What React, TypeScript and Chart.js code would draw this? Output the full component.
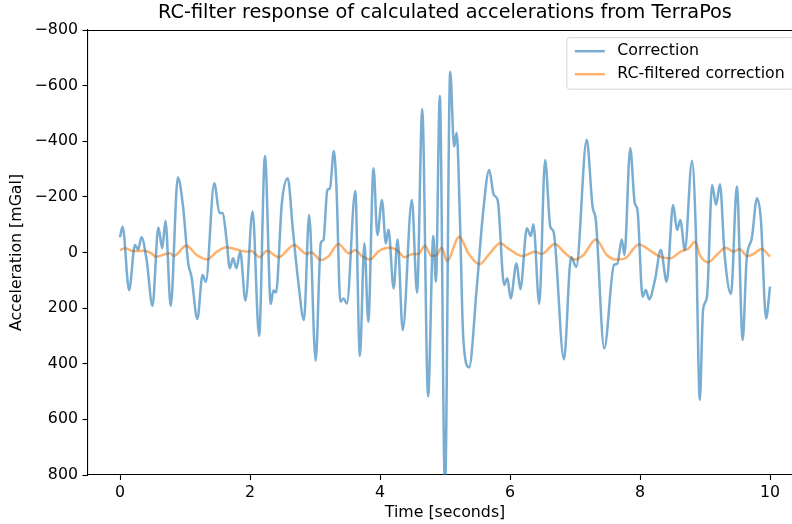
import React, { useEffect, useRef } from 'react';
import { Chart, registerables } from 'chart.js';

Chart.register(...registerables);

const TITLE = 'RC-filter response of calculated accelerations from TerraPos';
const X_LABEL = 'Time [seconds]';
const Y_LABEL = 'Acceleration [mGal]';
const SERIES_NAMES = ['Correction', 'RC-filtered correction'];
const X_TICKS = [0, 2, 4, 6, 8, 10];
const Y_TICKS = [-800, -600, -400, -200, 0, 200, 400, 600, 800];

const correctionTime = [
  0.0, 0.04, 0.14, 0.23, 0.28, 0.33, 0.41, 0.5, 0.59, 0.65, 0.7, 0.78, 0.89, 0.97, 1.05, 1.1, 1.19, 1.27, 1.32, 1.45,
  1.53, 1.58, 1.64, 1.69, 1.74, 1.79, 1.85, 1.93, 2.04, 2.14, 2.23, 2.32, 2.36, 2.4, 2.49, 2.58, 2.66, 2.74, 2.83, 2.91,
  3.01, 3.09, 3.13, 3.19, 3.23, 3.29, 3.33, 3.39, 3.44, 3.49, 3.62, 3.69, 3.76, 3.82, 3.9, 3.96, 4.03, 4.09, 4.13, 4.21,
  4.27, 4.35, 4.49, 4.57, 4.65, 4.74, 4.82, 4.86, 4.92, 5.0, 5.08, 5.14, 5.18, 5.23, 5.28, 5.37, 5.49, 5.58, 5.68, 5.75,
  5.81, 5.91, 5.96, 6.01, 6.1, 6.16, 6.26, 6.32, 6.36, 6.45, 6.54, 6.62, 6.67, 6.83, 6.94, 7.02, 7.18, 7.27, 7.32, 7.45,
  7.6, 7.65, 7.72, 7.76, 7.85, 7.92, 7.96, 8.04, 8.09, 8.14, 8.23, 8.32, 8.41, 8.51, 8.57, 8.62, 8.69, 8.8, 8.86, 8.92,
  8.97, 9.03, 9.11, 9.17, 9.23, 9.3, 9.4, 9.49, 9.58, 9.64, 9.72, 9.8, 9.86, 9.94, 10.0,
];
const correctionValue = [
  -55, -93, 135, -27, -11, -55, 27, 192, -90, -15, -114, 192, -270, -165, 39, 87, 239, 81, 105, -249,
  -143, -141, -45, 57, 21, 57, -3, 173, -147, 300, -347, 185, 137, 144, -177, -267, -81, 99, 243, -135,
  389, -35, -45, -225, -231, -365, -237, 177, 165, 183, -221, 372, -33, 249, -303, -63, -189, -33, -83, 129,
  -47, 279, -189, 144, -515, 518, -59, 105, -563, 860, -650, -381, -431, -117, 303, 413, 123, -129, -297, -207,
  -189, 117, 93, 165, 39, 132, -87, -59, -102, 185, -333, -93, -75, 384, 17, 51, -405, -165, -117, 345,
  45, 41, -47, 9, -375, -177, -155, 159, 135, 168, 99, -9, 105, -171, -81, -117, -9, -330, -69, 530,
  207, 159, -243, -171, -245, 3, 149, -237, 315, 27, -51, -195, -117, 237, 123,
];

const filteredTime = [
  0.0, 0.08, 0.2, 0.36, 0.46, 0.56, 0.69, 0.77, 0.83, 1.02, 1.18, 1.34, 1.49, 1.64, 1.82, 1.95, 2.02, 2.15, 2.26, 2.44,
  2.68, 2.87, 2.94, 3.09, 3.21, 3.36, 3.52, 3.62, 3.72, 3.85, 3.97, 4.13, 4.26, 4.38, 4.49, 4.59, 4.69, 4.79, 4.87, 4.95,
  5.03, 5.22, 5.36, 5.53, 5.69, 5.85, 5.97, 6.2, 6.38, 6.49, 6.69, 6.85, 7.0, 7.13, 7.32, 7.49, 7.62, 7.77, 7.98, 8.18,
  8.31, 8.46, 8.64, 8.74, 8.85, 8.92, 9.05, 9.18, 9.32, 9.44, 9.53, 9.65, 9.74, 9.87, 10.0,
];
const filteredValue = [
  -9, -15, -5, -6, 0, 15, 6, 3, 12, -24, 9, 25, -3, -19, -9, -3, -5, 17, -6, 17,
  -27, 5, -1, 27, 13, -31, 3, -9, 13, 25, -3, -17, -9, 17, 6, 5, -24, 12, 9, -17,
  31, -57, 3, 42, 3, -33, -15, 13, -3, 5, -31, 3, 25, 9, -47, 9, 25, 21, -29, -3,
  15, 21, -5, -13, -39, 9, 35, 9, -17, -3, -13, 13, 6, -13, 15,
];

const FONT = '"DejaVu Sans", sans-serif';
const FS = 15.8;

const decorPlugin = {
  id: 'mplDecor',
  afterDatasetsDraw(chart: any) {
    const { ctx, chartArea: a } = chart;
    ctx.save();
    // top spine
    ctx.strokeStyle = '#000';
    ctx.lineWidth = 1.1;
    ctx.beginPath();
    ctx.moveTo(a.left, a.top + 0.5);
    ctx.lineTo(a.right, a.top + 0.5);
    ctx.stroke();

    // legend
    ctx.font = `${FS}px ${FONT}`;
    const ds = chart.data.datasets;
    const labels = ds.map((d: any) => d.label as string);
    const textW = Math.max(...labels.map((l: string) => ctx.measureText(l).width));
    const pad = 8;
    const handle = 30;
    const gap = 12.5;
    const rowH = 23;
    const boxRight = a.right - 7.7;
    const boxTop = a.top + 7.7;
    const boxW = pad + handle + gap + textW + 10;
    const boxH = 13.5 + rowH * (labels.length - 1) + 15;
    const boxLeft = boxRight - boxW;
    const r = 3;
    ctx.beginPath();
    ctx.moveTo(boxLeft + r, boxTop);
    ctx.lineTo(boxRight - r, boxTop);
    ctx.arcTo(boxRight, boxTop, boxRight, boxTop + r, r);
    ctx.lineTo(boxRight, boxTop + boxH - r);
    ctx.arcTo(boxRight, boxTop + boxH, boxRight - r, boxTop + boxH, r);
    ctx.lineTo(boxLeft + r, boxTop + boxH);
    ctx.arcTo(boxLeft, boxTop + boxH, boxLeft, boxTop + boxH - r, r);
    ctx.lineTo(boxLeft, boxTop + r);
    ctx.arcTo(boxLeft, boxTop, boxLeft + r, boxTop, r);
    ctx.closePath();
    ctx.fillStyle = 'rgba(255,255,255,0.8)';
    ctx.fill();
    ctx.strokeStyle = 'rgba(204,204,204,0.8)';
    ctx.lineWidth = 1;
    ctx.stroke();

    labels.forEach((label: string, i: number) => {
      const cy = boxTop + 13.5 + i * rowH;
      ctx.strokeStyle = ds[i].borderColor;
      ctx.lineWidth = ds[i].borderWidth;
      ctx.beginPath();
      ctx.moveTo(boxLeft + pad, cy);
      ctx.lineTo(boxLeft + pad + handle, cy);
      ctx.stroke();
      ctx.fillStyle = '#000';
      ctx.textAlign = 'left';
      ctx.textBaseline = 'middle';
      ctx.fillText(label, boxLeft + pad + handle + gap, cy);
    });

    // title
    ctx.font = `${FS * 1.22}px ${FONT}`;
    ctx.fillStyle = '#000';
    ctx.textAlign = 'center';
    ctx.textBaseline = 'middle';
    ctx.fillText(TITLE, (a.left + a.right) / 2, 13);
    ctx.restore();
  },
};

const fmt = (v: number) => (v < 0 ? '\u2212' + Math.abs(v) : String(v));

export default function App() {
  const ref = useRef<HTMLCanvasElement | null>(null);

  useEffect(() => {
    document.body.style.margin = '0';
    document.body.style.overflow = 'hidden';
    const canvas = ref.current!;
    const chart = new Chart(canvas, {
      type: 'line',
      data: {
        datasets: [
          {
            label: SERIES_NAMES[0],
            data: correctionTime.map((t, i) => ({ x: t, y: correctionValue[i] })),
            borderColor: 'rgba(31,119,180,0.6)',
            borderWidth: 2.5,
            pointRadius: 0,
            cubicInterpolationMode: 'monotone',
            fill: false,
          },
          {
            label: SERIES_NAMES[1],
            data: filteredTime.map((t, i) => ({ x: t, y: filteredValue[i] })),
            borderColor: 'rgba(255,127,14,0.6)',
            borderWidth: 2.5,
            pointRadius: 0,
            cubicInterpolationMode: 'monotone',
            fill: false,
          },
        ],
      },
      options: {
        animation: false,
        responsive: false,
        devicePixelRatio: 1,
        layout: { padding: { left: 0, right: 9.5, top: 30, bottom: 0 } },
        plugins: {
          legend: { display: false },
          title: { display: false },
          tooltip: { enabled: false },
        },
        scales: {
          x: {
            type: 'linear',
            min: -0.5,
            max: 10.5,
            afterBuildTicks: (s: any) => {
              s.ticks = X_TICKS.map((v) => ({ value: v }));
            },
            afterFit: (s: any) => {
              s.height = 49;
            },
            grid: { drawOnChartArea: false, tickLength: 5, color: '#000', tickWidth: 1.1 },
            border: { display: true, color: '#000', width: 1.1 },
            ticks: {
              font: { family: FONT, size: FS },
              color: '#000',
              padding: 3,
              maxRotation: 0,
              callback: (v: any) => fmt(Number(v)),
            },
            title: {
              display: true,
              text: X_LABEL,
              font: { family: FONT, size: FS },
              color: '#000',
              padding: { top: 0, bottom: 1.5 },
            },
          },
          y: {
            type: 'linear',
            reverse: true,
            min: -800,
            max: 800,
            afterBuildTicks: (s: any) => {
              s.ticks = Y_TICKS.map((v) => ({ value: v }));
            },
            afterFit: (s: any) => {
              s.width = 87.5;
            },
            grid: { drawOnChartArea: false, tickLength: 5, color: '#000', tickWidth: 1.1 },
            border: { display: true, color: '#000', width: 1.1 },
            ticks: {
              font: { family: FONT, size: FS },
              color: '#000',
              padding: 4.5,
              callback: (v: any) => fmt(Number(v)),
            },
            title: {
              display: true,
              text: Y_LABEL,
              font: { family: FONT, size: FS },
              color: '#000',
              padding: { top: 7.5, bottom: 0 },
            },
          },
        },
      },
      plugins: [decorPlugin],
    } as any);
    return () => chart.destroy();
  }, []);

  return (
    <div style={{ position: 'fixed', left: 0, top: 0, width: 812, height: 524 }}>
      <canvas ref={ref} width={812} height={524} style={{ width: 812, height: 524, display: 'block' }} />
    </div>
  );
}
